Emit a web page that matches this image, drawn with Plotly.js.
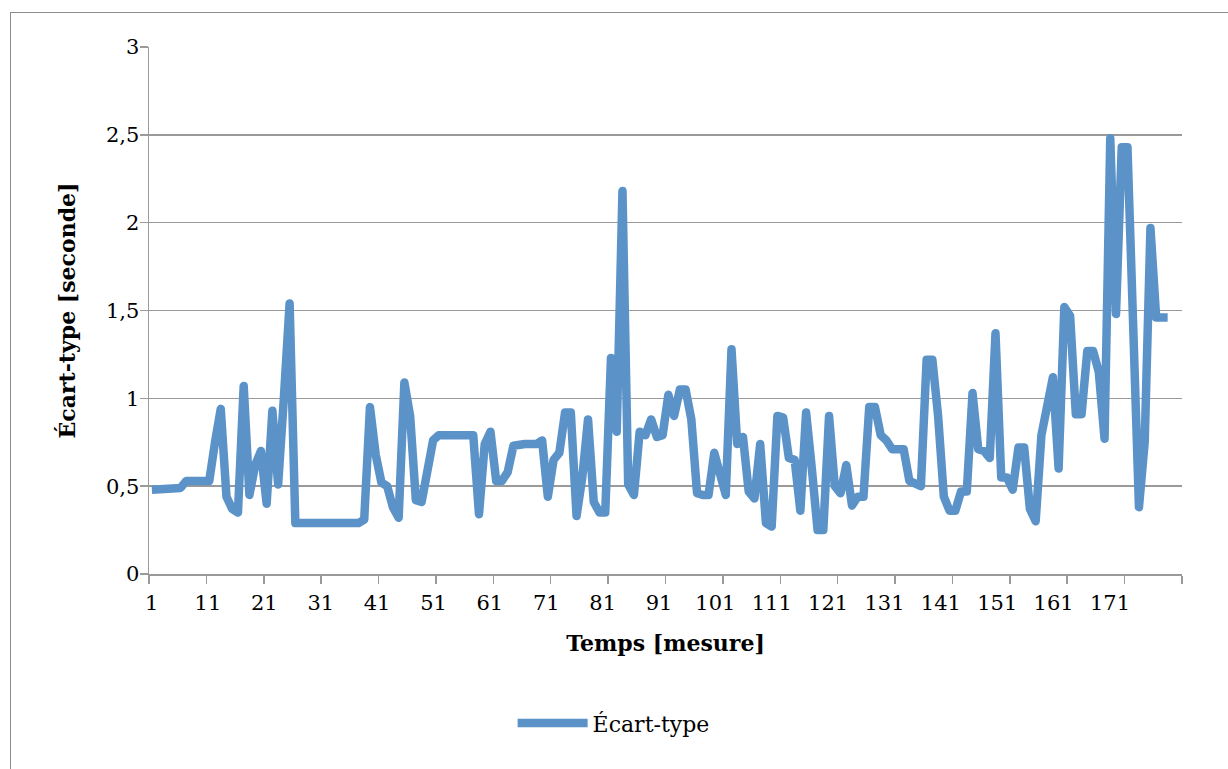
<!DOCTYPE html>
<html>
<head>
<meta charset="utf-8">
<script src="https://cdn.plot.ly/plotly-3.0.1.min.js"></script>
<style>
  html, body { margin: 0; padding: 0; background: #fff; }
  #wrap { position: relative; width: 1228px; height: 769px; overflow: hidden; }
  #chart { position: absolute; left: 0; top: 0; width: 1228px; height: 769px; }
  #frame { position: absolute; left: 10px; top: 12px; width: 1240px; height: 780px;
           border: 1px solid #8c8c8c; pointer-events: none; }
  .scatterlayer .js-line { stroke-linejoin: round !important; }
</style>
</head>
<body>
<div id="wrap">
  <div id="chart"></div>
  <div id="frame"></div>
</div>
<script>
// ---- data ----
const seriesName = "Écart-type";
const xTitle = "Temps [mesure]";
const yTitle = "Écart-type [seconde]";
const categoryCount = 180;
const tickLabels = ["1","11","21","31","41","51","61","71","81","91","101","111","121","131","141","151","161","171"];
const yTickValues = [0, 0.5, 1, 1.5, 2, 2.5, 3];
const ecartType = [
  0.48,0.48,0.48,0.48,0.48,0.49,0.53,0.53,0.53,0.53,
  0.53,0.75,0.94,0.44,0.37,0.35,1.07,0.45,0.62,0.70,
  0.40,0.93,0.51,1.00,1.54,0.29,0.29,0.29,0.29,0.29,
  0.29,0.29,0.29,0.29,0.29,0.29,0.29,0.31,0.95,0.68,
  0.52,0.50,0.38,0.32,1.09,0.90,0.42,0.41,0.60,0.76,
  0.79,0.79,0.79,0.79,0.79,0.79,0.79,0.34,0.74,0.81,
  0.53,0.53,0.58,0.73,0.74,0.74,0.74,0.74,0.76,0.44,
  0.65,0.69,0.92,0.92,0.33,0.55,0.88,0.41,0.35,0.35,
  1.23,0.81,2.18,0.51,0.45,0.81,0.79,0.88,0.78,0.79,
  1.02,0.90,1.05,1.05,0.88,0.46,0.45,0.45,0.69,0.57,
  0.45,1.28,0.74,0.78,0.47,0.43,0.74,0.29,0.27,0.90,
  0.89,0.66,0.65,0.36,0.92,0.60,0.25,0.25,0.90,0.50,
  0.46,0.62,0.39,0.44,0.44,0.95,0.95,0.79,0.76,0.71,
  0.71,0.71,0.53,0.52,0.50,1.22,1.22,0.90,0.44,0.36,
  0.36,0.47,0.47,1.03,0.71,0.70,0.66,1.37,0.55,0.55,
  0.48,0.72,0.72,0.37,0.30,0.79,0.95,1.12,0.60,1.52,
  1.47,0.91,0.91,1.27,1.27,1.15,0.77,2.48,1.48,2.43,
  2.43,1.40,0.38,0.75,1.97,1.46,1.46,1.46
];
const measureIndex = ecartType.map((_, i) => i + 1);

// ---- styling / layout ----
const lineColor = "#5b93c8";
const gridColor = "#9a9a9a";
const fontFam = "DejaVu Serif, Liberation Serif, serif";

// tick marks sit between categories every 10; labels drift slightly (as in the original)
const boundaryTicks = [];
for (let b = 0.5; b <= categoryCount + 0.5; b += 10) boundaryTicks.push(b);
const labelPositions = tickLabels.map(t => 0.5 + (2.6 + (Number(t) - 1) * 5.635) / 5.736);

const trace = {
  x: measureIndex,
  y: ecartType,
  type: "scatter",
  mode: "lines",
  name: seriesName,
  line: { color: lineColor, width: 8.5 },
  hoverinfo: "x+y"
};
// helper trace on the label axis so that axis is drawn
const labelTrace = {
  x: [labelPositions[0]], y: [null], xaxis: "x2", yaxis: "y",
  type: "scatter", mode: "lines", showlegend: false, hoverinfo: "skip"
};

const layout = {
  width: 1228, height: 769,
  margin: { l: 149, r: 46, t: 47, b: 195, pad: 0 },
  paper_bgcolor: "#ffffff", plot_bgcolor: "#ffffff",
  separators: ", ",
  font: { family: fontFam, color: "#000", size: 21 },
  showlegend: true,
  legend: {
    orientation: "h", x: 0.352, xanchor: "left", y: -0.283, yanchor: "middle",
    font: { family: fontFam, size: 22, color: "#000" },
    itemwidth: 70, bgcolor: "rgba(0,0,0,0)"
  },
  xaxis: {
    range: [0.5, categoryCount + 0.5],
    tickmode: "array", tickvals: boundaryTicks, ticktext: boundaryTicks.map(() => ""),
    showticklabels: false,
    ticks: "outside", ticklen: 8, tickwidth: 1.5, tickcolor: gridColor,
    showline: true, linecolor: gridColor, linewidth: 1.5,
    showgrid: false, zeroline: false,
    title: { text: xTitle, font: { family: fontFam, size: 22, color: "#000", weight: "bold" }, standoff: 53 }
  },
  xaxis2: {
    overlaying: "x", side: "bottom", anchor: "y",
    range: [0.5, categoryCount + 0.5],
    tickmode: "array", tickvals: labelPositions, ticktext: tickLabels,
    ticks: "", showline: false, showgrid: false, zeroline: false,
    tickfont: { family: fontFam, size: 21, color: "#000" },
    ticklabelstandoff: 14
  },
  yaxis: {
    range: [0, 3],
    tickmode: "array", tickvals: yTickValues,
    ticks: "outside", ticklen: 8, tickwidth: 1.5, tickcolor: gridColor,
    showline: true, linecolor: gridColor, linewidth: 1.5,
    showgrid: true, gridcolor: gridColor, gridwidth: 1.5,
    zeroline: false,
    tickfont: { family: fontFam, size: 21, color: "#000" },
    ticklabelstandoff: -4,
    title: { text: yTitle, font: { family: fontFam, size: 22, color: "#000", weight: "bold" }, standoff: 24 }
  }
};

Plotly.newPlot("chart", [trace, labelTrace], layout, { displayModeBar: false, staticPlot: true });
</script>
</body>
</html>
